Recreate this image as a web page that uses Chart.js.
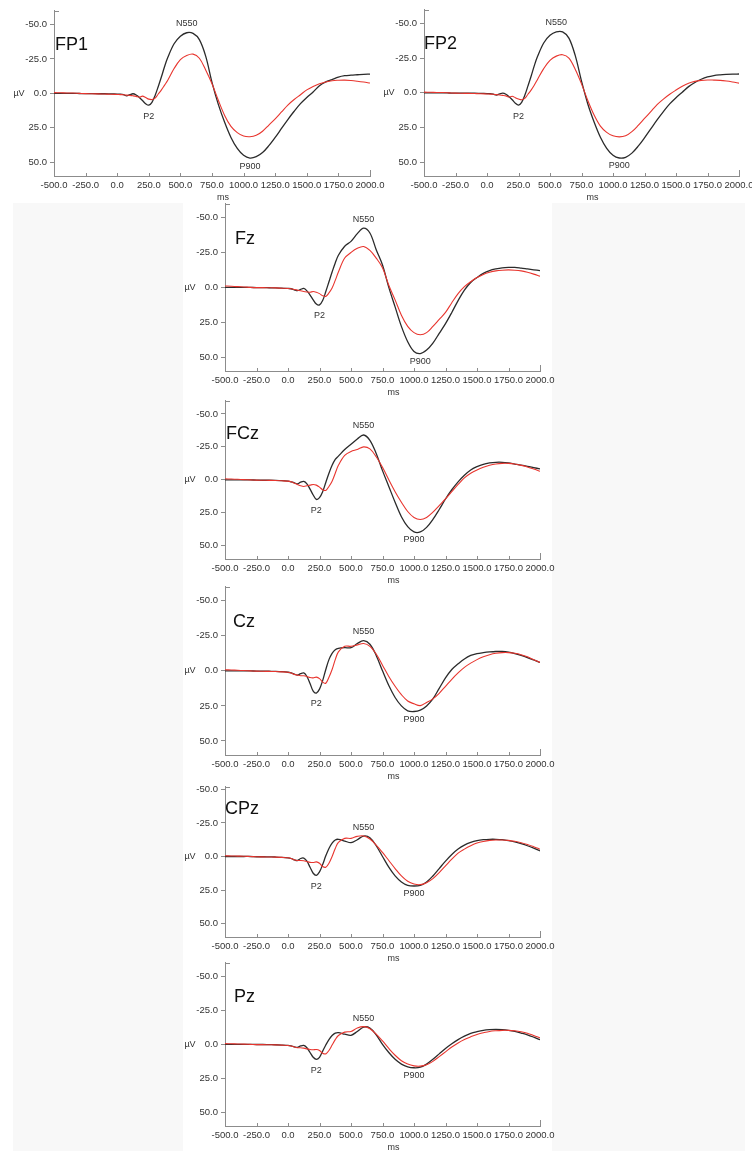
<!DOCTYPE html>
<html>
<head>
<meta charset="utf-8">
<script src="https://cdn.jsdelivr.net/npm/chart.js@4.4.0/dist/chart.umd.min.js"></script>
<style>
body { margin: 0; background: #fff; }
#page { position: relative; width: 752px; height: 1151px; overflow: hidden; }
.shade { position: absolute; background: #f8f8f8; }
canvas { position: absolute; }
</style>
</head>
<body>
<div id="page">
  <div class="shade" style="left:13px;top:203px;width:170px;height:948px"></div>
  <div class="shade" style="left:552px;top:203px;width:193px;height:948px"></div>
</div>
<script>
// sample times (ms)
const times = [-500,-450,-400,-350,-300,-250,-200,-150,-100,-50,0,
  25,50,75,100,125,150,175,200,225,250,275,300,325,350,375,400,
  450,500,550,600,650,700,750,800,850,900,950,1000,1050,1100,1150,1200,1250,1300,1350,1400,
  1450,1500,1550,1600,1650,1700,1750,1800,1850,1900,1950,2000];

const xTicks = [-500,-250,0,250,500,750,1000,1250,1500,1750,2000];
const yTicks = [-50,-25,0,25,50];

// amplitudes in µV (negative plotted up)
const fp1Black = [0,0,0,0,0.1,0.2,0.2,0.3,0.3,0.4,0.5,
  0.6,1.0,1.8,1.0,0.3,1.2,3.0,5.2,7.5,8.6,6.5,1.5,-5,-12,-19.5,-26,
  -36,-41.5,-44,-43.5,-39,-27,-8,8,21,32,40,45,47,46,43,38,32,25.5,19,13,7.5,3,-1,-5.5,-8.3,-10,-11.8,-12.8,-13.2,-13.5,-13.8,-14];
const fp1Red = [-0.5,-0.4,-0.3,-0.2,0,0.2,0.3,0.4,0.5,0.6,0.8,
  0.9,1.0,1.3,1.5,1.8,2.2,2.8,2.0,3.0,4.2,4.5,3.5,0.5,-2.5,-6,-9.5,
  -18,-24.5,-27.5,-28.5,-25.5,-17,-7,5,16,24,28.5,31,31.5,30.5,27.5,23,18.5,13.5,8.5,4.5,1,-2.5,-5,-7,-8.3,-9.2,-9.5,-9.6,-9.3,-8.8,-8.2,-7.5];

const fp2Black = [0,0,0,0,0.1,0.2,0.2,0.3,0.3,0.4,0.5,
  0.6,1.0,1.6,0.8,0.2,1.0,2.8,5,7.5,8.8,6.8,1.8,-5,-12,-19.5,-26,
  -36,-41.5,-44,-44,-39.5,-27,-8.5,8,21,32,40,45,47,46.5,43.5,38.5,32.5,26,19.5,13.5,8,3.5,-0.5,-4.5,-7.5,-9.8,-11.5,-12.5,-13,-13.3,-13.5,-13.6];
const fp2Red = [-0.5,-0.4,-0.3,-0.2,0,0.2,0.3,0.4,0.5,0.6,0.8,
  0.9,1.0,1.3,1.5,1.8,2.2,3,2.5,3.5,4.5,5,4,1,-2,-5.5,-9.5,
  -17.5,-23.5,-26.5,-27.5,-25,-17,-6.5,5.5,16,24,28.5,31,31.8,31,28,23.5,18.5,13.5,8.5,4.5,1,-2,-4.8,-7,-8.3,-9,-9.3,-9.2,-9,-8.5,-7.8,-7];

const fzBlack = [0,0,0,0,0,0.2,0.2,0.3,0.4,0.6,0.8,
  1.0,1.8,2.4,1.5,0.8,2.5,5.5,9,12,12.6,9.5,3,-4,-11,-17.5,-23,
  -29.5,-33,-38.5,-42.5,-39,-27,-16,0,14,28,39,46,47.5,45,40,33,26,18,9.5,2,-3.5,-7,-10,-12,-13.2,-14,-14.3,-14.3,-13.8,-13.2,-12.6,-12];
const fzRed = [-1,-0.8,-0.5,-0.3,0,0.2,0.2,0.3,0.4,0.6,0.8,
  1,1.5,2,2.5,3,3.3,3.5,3,3.5,4.5,6,6.5,4,0.5,-5,-11,
  -21,-25,-28,-29.3,-26.5,-21,-14,-1.5,9,20,28,32.5,34,32.5,28,23,18,11,4.5,-0.5,-4,-7,-9.3,-10.8,-11.8,-12.3,-12.5,-12.3,-11.8,-10.8,-9.5,-8];

const fczBlack = [0,0,0,0,0,0.2,0.3,0.3,0.4,0.6,1,
  1.5,2.2,3,1.8,1.2,3,7,11.5,14.8,13.5,9,2,-5,-11,-15.5,-18,
  -23,-27,-31,-34,-30,-20,-7,5,17,28,35.5,39.5,39.5,36,30,22.5,14.5,7.5,1.5,-3.5,-7.5,-10,-11.8,-12.8,-13.3,-13.3,-12.8,-12,-11.2,-10.3,-9.3,-8.3];
const fczRed = [-0.8,-0.6,-0.4,-0.2,0,0.2,0.3,0.4,0.5,0.7,1,
  1.5,2.5,3.5,4.5,5,4.5,4,3.5,4,5.5,7.5,8,5,1,-5,-11,
  -18.5,-21.5,-23,-25,-23.5,-17.5,-9.5,0,9,17,24,28.5,30,28.5,24.5,19.5,14.5,9,3.5,-1.5,-5,-7.5,-9.5,-11,-12,-12.5,-12.5,-12,-11,-9.8,-8.2,-6.5];

const czBlack = [0,0,0,0,0,0.2,0.2,0.3,0.4,0.6,1,
  1.5,2.3,3,2,1.5,4,9,14.5,15.8,13,7,-1,-8,-12.5,-15,-16,
  -16.5,-16.5,-19.5,-21.5,-19,-11,0,10.5,19,25,28.5,29,28,25,20,12.5,5,-1,-5,-8.5,-11,-12.3,-13,-13.5,-13.8,-13.8,-13.3,-12.3,-11,-9.5,-7.8,-6];
const czRed = [-0.8,-0.6,-0.4,-0.2,0,0.2,0.3,0.4,0.5,0.7,1,
  1.5,2.5,3,3.5,3.5,4,4.8,5,4.5,5.5,8,8.8,4.5,-1,-8,-13.5,
  -17.5,-17.5,-18.5,-19.5,-17.5,-12,-4,4,11,17,21.5,23.5,24.8,22.5,20,16,11,6,1.5,-2.5,-5.5,-8,-10,-11.5,-12.5,-13,-13,-12.5,-11.5,-10,-8,-6];

const cpzBlack = [0,0,0,0,0,0.2,0.2,0.3,0.4,0.6,1,
  1.5,2.5,3,1.5,1.2,3.5,8,12.5,14,11.5,6,-0.5,-6,-10,-12.3,-12.8,
  -11.5,-10.3,-12.5,-15.2,-14,-8,0,8,14.5,19,21.5,22,21.5,19,14.5,9,3.5,-1.5,-5.5,-8.5,-10.5,-11.8,-12.5,-12.8,-12.8,-12.5,-11.8,-10.8,-9.5,-8,-6.2,-4.2];
const cpzRed = [-0.5,-0.4,-0.3,-0.2,0,0.2,0.3,0.4,0.5,0.7,1,
  1.5,2.5,3,3,3.2,3.8,4.4,4.5,4,5,7.5,8,5,0,-6,-10.5,
  -13.5,-13.5,-15,-15.3,-13,-8.5,-3,3,9,14.5,18.5,20.5,21,19.5,16.5,12,7,2,-2.5,-5.5,-8,-10,-11.2,-12,-12.3,-12.3,-12,-11.3,-10.3,-9,-7.3,-5.4];

const pzBlack = [0,0,0,0,0,0.1,0.1,0.2,0.3,0.5,0.8,
  1.2,1.8,2.2,1.2,0.8,2.5,6,9.5,11,9.5,5,0.5,-3.5,-6.5,-8.2,-8.6,
  -7.5,-6.6,-9.5,-12.7,-12,-7,0,6,11,14.5,16.5,17.2,16.8,14.5,11,7,3,-0.5,-3.5,-6,-8,-9.3,-10.3,-10.8,-11,-10.8,-10.3,-9.5,-8.3,-7,-5.3,-3.4];
const pzRed = [-0.5,-0.4,-0.3,-0.2,0,0.2,0.2,0.3,0.4,0.6,0.8,
  1.2,2,2.5,2.5,2.8,3.3,3.8,4,3.8,4.5,6.5,7,4.5,0.5,-3.5,-6.5,
  -9,-9.5,-12,-13,-11.5,-7.5,-2.5,3,8,12,14.5,15.8,16,15,12.5,9,5.5,2,-1,-3.5,-5.5,-7.3,-8.5,-9.5,-10,-10.3,-10.3,-10,-9.3,-8.2,-6.5,-4.7];

// panel placement on the page (pixels)
const panels = [
  { name: "FP1", black: fp1Black, red: fp1Red, xl: 54,  xr: 370, top: 10,  bottom: 176,  yMin: -60, labelDx: 1 },
  { name: "FP2", black: fp2Black, red: fp2Red, xl: 424, xr: 739, top: 9,   bottom: 176,  yMin: -60, labelDx: 0 },
  { name: "Fz",  black: fzBlack,  red: fzRed,  xl: 225, xr: 540, top: 203, bottom: 371,  yMin: -60, labelDx: 10 },
  { name: "FCz", black: fczBlack, red: fczRed, xl: 225, xr: 540, top: 400, bottom: 559,  yMin: -60, labelDx: 1 },
  { name: "Cz",  black: czBlack,  red: czRed,  xl: 225, xr: 540, top: 586, bottom: 755,  yMin: -60, labelDx: 8 },
  { name: "CPz", black: cpzBlack, red: cpzRed, xl: 225, xr: 540, top: 786, bottom: 937,  yMin: -52, labelDx: 0 },
  { name: "Pz",  black: pzBlack,  red: pzRed,  xl: 225, xr: 540, top: 962, bottom: 1126, yMin: -60, labelDx: 9 }
];

const BLACK = "#2b2b2b";
const RED = "#e8352e";
const AXIS = "#8c8c8c";
const TEXT = "#333";
const FAMILY = '"Liberation Sans", Arial, sans-serif';

function toPoints(vals) {
  return vals.map((v, i) => ({ x: times[i], y: v }));
}

// index of the extreme value of a series inside a time window
function peakIndex(vals, t0, t1, sign) {
  let best = -1;
  for (let i = 0; i < times.length; i++) {
    if (times[i] < t0 || times[i] > t1) continue;
    if (best < 0 || vals[i] * sign > vals[best] * sign) best = i;
  }
  return best;
}

const eegPlugin = {
  id: "eeg",
  afterDraw(chart, args, opts) {
    const { ctx, chartArea: a, scales: { x, y } } = chart;
    ctx.save();
    ctx.strokeStyle = AXIS;
    ctx.lineWidth = 1;
    ctx.beginPath();
    xTicks.forEach(v => {
      const px = Math.round(x.getPixelForValue(v)) + 0.5;
      ctx.moveTo(px, a.bottom);
      ctx.lineTo(px, a.bottom - (v === 2000 ? 6 : 3));
    });
    ctx.moveTo(a.left, Math.round(a.top) + 0.5);
    ctx.lineTo(a.left + 5, Math.round(a.top) + 0.5);
    ctx.stroke();

    ctx.fillStyle = TEXT;
    ctx.font = "9px " + FAMILY;
    ctx.textAlign = "center";
    ctx.textBaseline = "middle";
    ctx.fillText("\u00b5V", a.left - 35, y.getPixelForValue(0));
    ctx.fillText("ms", (a.left + a.right) / 2 + 11, a.bottom + 22);

    // component labels next to the black waveform peaks
    const b = opts.black;
    const marks = [
      { text: "N550", i: peakIndex(b, 400, 800, -1), dy: -9 },
      { text: "P2",   i: peakIndex(b, 150, 300, 1),  dy: 11 },
      { text: "P900", i: peakIndex(b, 850, 1200, 1), dy: 8 }
    ];
    marks.forEach(m => {
      ctx.fillText(m.text, x.getPixelForValue(times[m.i]), y.getPixelForValue(b[m.i]) + m.dy);
    });

    ctx.fillStyle = "#111";
    ctx.font = "18px " + FAMILY;
    ctx.textAlign = "left";
    ctx.fillText(opts.name, a.left + opts.labelDx, y.getPixelForValue(-35));
    ctx.restore();
  }
};

function makePanel(p) {
  const padL = 45, padR = 24, padT = 8, padB = 32;
  const canvas = document.createElement("canvas");
  canvas.width = p.xr - p.xl + padL + padR;
  canvas.height = p.bottom - p.top + padT + padB;
  canvas.style.left = (p.xl - padL) + "px";
  canvas.style.top = (p.top - padT) + "px";
  document.getElementById("page").appendChild(canvas);

  const font = { family: FAMILY, size: 9.5 };
  new Chart(canvas, {
    type: "line",
    data: {
      datasets: [
        { label: "red", data: toPoints(p.red), borderColor: RED, borderWidth: 1.1, order: 0 },
        { label: "black", data: toPoints(p.black), borderColor: BLACK, borderWidth: 1.3, order: 1 }
      ]
    },
    options: {
      responsive: false,
      animation: false,
      devicePixelRatio: 1,
      layout: { padding: { top: padT, right: padR, left: 0, bottom: 0 } },
      elements: {
        point: { radius: 0 },
        line: { tension: 0.35, fill: false }
      },
      plugins: {
        legend: { display: false },
        tooltip: { enabled: false },
        eeg: { name: p.name, labelDx: p.labelDx, black: p.black }
      },
      scales: {
        x: {
          type: "linear", min: -500, max: 2000,
          afterFit: s => { s.height = padB; },
          afterBuildTicks: s => { s.ticks = xTicks.map(v => ({ value: v })); },
          grid: { display: false, drawTicks: false },
          border: { color: AXIS },
          ticks: { autoSkip: false, maxRotation: 0, padding: 4, color: TEXT, font: font,
                   callback: v => Number(v).toFixed(1) }
        },
        y: {
          type: "linear", reverse: true, min: p.yMin, max: 60,
          afterFit: s => { s.width = padL; },
          afterBuildTicks: s => { s.ticks = yTicks.map(v => ({ value: v })); },
          grid: { drawOnChartArea: false, tickLength: 4, color: AXIS },
          border: { color: AXIS },
          ticks: { padding: 3, color: TEXT, font: font, callback: v => Number(v).toFixed(1) }
        }
      }
    },
    plugins: [eegPlugin]
  });
}

panels.forEach(makePanel);
</script>
</body>
</html>
